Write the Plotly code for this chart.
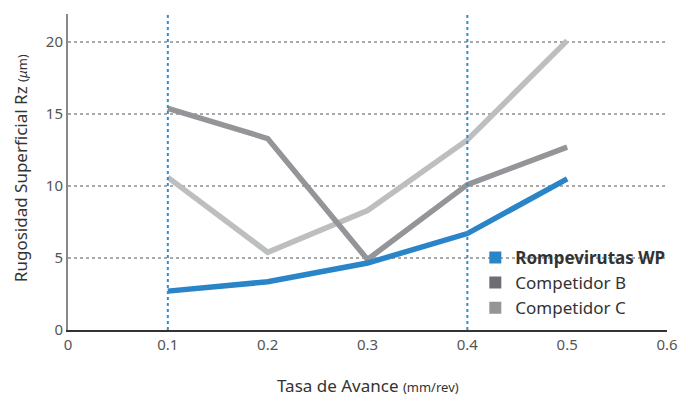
import plotly.graph_objects as go

# Feed rate (mm/rev) and surface roughness Rz (µm) per tool
feed = [0.1, 0.2, 0.3, 0.4, 0.5]
rz_wp = [2.7, 3.35, 4.65, 6.7, 10.5]
rz_b = [15.4, 13.3, 4.9, 10.1, 12.7]
rz_c = [10.6, 5.4, 8.3, 13.2, 20.1]

series_names = ["<b>Rompevirutas WP</b>", "Competidor B", "Competidor C"]
line_colors = ["#2a85c8", "#939598", "#bcbec0"]
legend_colors = ["#2a85c8", "#6d6e71", "#939598"]

x_ticks = [0, 0.1, 0.2, 0.3, 0.4, 0.5, 0.6]
x_ticklabels = ["0", "0.1", "0.2", "0.3", "0.4", "0.5", "0.6"]
y_ticks = [0, 5, 10, 15, 20]
guide_x = [0.1, 0.4]

FONT = "Noto Sans"
W, H = 682, 398
ML, MR, MT, MB = 68, 13, 14, 68
PW, PH = W - ML - MR, H - MT - MB


def px_to_paper(px, py):
    return (px - ML) / PW, (H - MB - py) / PH


fig = go.Figure()

# Draw competitors first so the WP line sits on top
for ys, color in [(rz_c, line_colors[2]), (rz_b, line_colors[1]), (rz_wp, line_colors[0])]:
    fig.add_trace(go.Scatter(
        x=feed, y=ys, mode="lines",
        line=dict(color=color, width=5.5),
        showlegend=False, hoverinfo="skip",
    ))

# Legend entries with square swatches
for name, color in zip(series_names, legend_colors):
    fig.add_trace(go.Scatter(
        x=[None], y=[None], mode="markers", name=name,
        marker=dict(symbol="square", size=15, color=color),
    ))

# Dotted vertical guides
for gx in guide_x:
    fig.add_shape(type="line", xref="x", yref="paper",
                  x0=gx, x1=gx, y0=0, y1=1.005,
                  line=dict(color="#2b8fd8", width=2, dash="dot"))

# Axis titles as free annotations
xt = px_to_paper(369, 385)
yt = px_to_paper(20, 168)
fig.add_annotation(
    xref="paper", yref="paper", x=xt[0], y=xt[1], showarrow=False,
    xanchor="center", yanchor="middle",
    text="Tasa de Avance <span style='font-size:13px'>(mm/rev)</span>",
    font=dict(size=17, color="#333333", family=FONT),
)
fig.add_annotation(
    xref="paper", yref="paper", x=yt[0], y=yt[1], showarrow=False, textangle=-90,
    xanchor="center", yanchor="middle",
    text="Rugosidad Superficial Rz <span style='font-size:13px'>(<i>μ</i>m)</span>",
    font=dict(size=17, color="#333333", family=FONT),
)

fig.update_layout(
    width=W, height=H,
    margin=dict(l=ML, r=MR, t=MT, b=MB),
    paper_bgcolor="white", plot_bgcolor="white",
    font=dict(family=FONT, color="#444444", size=15),
    legend=dict(
        x=0.68, y=0.285, xanchor="left", yanchor="top",
        font=dict(size=17, color="#333333", family=FONT),
        tracegroupgap=0, itemsizing="constant",
        bgcolor="rgba(0,0,0,0)",
    ),
    xaxis=dict(
        range=[0, 0.6], tickvals=x_ticks, ticktext=x_ticklabels,
        showgrid=False, zeroline=False, automargin=False,
        showline=True, linecolor="#333333", linewidth=1.5,
        ticks="", ticklen=0,
        tickfont=dict(size=15, color="#555555"),
    ),
    yaxis=dict(
        range=[0, 21.95], tickvals=y_ticks, automargin=False,
        showgrid=True, gridcolor="#aaaaaa", gridwidth=1.5, griddash="dot",
        zeroline=False,
        showline=True, linecolor="#888888", linewidth=2,
        ticks="", tickfont=dict(size=15, color="#555555"),
    ),
)

fig.write_html("out.html")
